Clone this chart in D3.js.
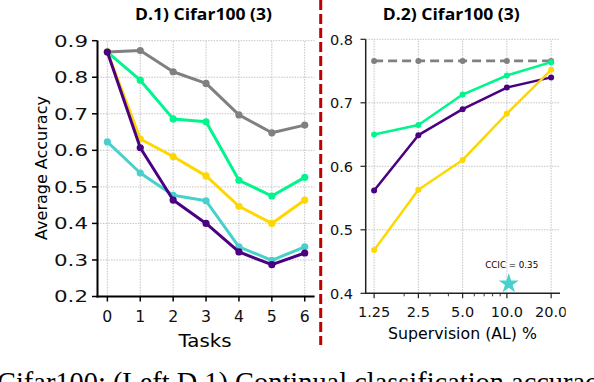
<!DOCTYPE html>
<html><head><meta charset="utf-8">
<script src="https://cdn.jsdelivr.net/npm/d3@7/dist/d3.min.js"></script>
<style>html,body{margin:0;padding:0;background:#fff;overflow:hidden}svg{display:block}</style>
</head><body>
<svg id="c" width="594" height="382"></svg>
<script>
// ---------- data ----------
const tasks = [0, 1, 2, 3, 4, 5, 6];
const leftGray   = [0.869, 0.873, 0.815, 0.783, 0.697, 0.648, 0.669];
const leftTurq   = [0.623, 0.538, 0.477, 0.462, 0.336, 0.299, 0.336];
const leftGreen  = [0.869, 0.792, 0.686, 0.678, 0.518, 0.475, 0.526];
const leftYellow = [0.869, 0.631, 0.583, 0.530, 0.447, 0.400, 0.464];
const leftPurple = [0.869, 0.607, 0.464, 0.400, 0.322, 0.287, 0.319];
const leftYTicks = [0.2, 0.3, 0.4, 0.5, 0.6, 0.7, 0.8, 0.9];

const supervision = [1.25, 2.5, 5.0, 10.0, 20.0];
const supervisionLabels = ["1.25", "2.5", "5.0", "10.0", "20.0"];
const minorTicks = [2, 3, 4, 6, 7, 8, 9];
const rightGray   = [0.766, 0.766, 0.766, 0.766, 0.766];
const rightPurple = [0.562, 0.649, 0.690, 0.724, 0.740];
const rightYellow = [0.468, 0.563, 0.610, 0.683, 0.752];
const rightGreen  = [0.650, 0.665, 0.713, 0.743, 0.764];
const rightYTicks = [0.4, 0.5, 0.6, 0.7, 0.8];
const starPoint = {x: 10.3, y: 0.415, label: "CCIC = 0.35"};

const C = {gray: "#808080", turq: "#48D1CC", green: "#00F68C", yellow: "#FFD700", purple: "#4B0082"};

const svg = d3.select("#c");
const tickFont = "DejaVu Sans";

// ---------- left panel ----------
const lx = d3.scaleLinear().domain([-0.3, 6.3]).range([97.5, 314.6]);
const ly = d3.scaleLinear().domain([0.2, 0.9]).range([296.5, 40.7]);
const L = svg.append("g");

// grid
L.selectAll(".vg").data(tasks).join("line")
  .attr("x1", d => lx(d)).attr("x2", d => lx(d)).attr("y1", ly(0.2)).attr("y2", ly(0.9))
  .attr("stroke", "#b5b5b5").attr("stroke-width", 0.8).attr("stroke-dasharray", "1.5,1.2");
L.selectAll(".hg").data(leftYTicks.slice(1)).join("line")
  .attr("x1", lx(-0.3)).attr("x2", lx(6.3)).attr("y1", d => ly(d)).attr("y2", d => ly(d))
  .attr("stroke", "#b5b5b5").attr("stroke-width", 0.8).attr("stroke-dasharray", "1.5,1.2");

const lline = d3.line().x((d, i) => lx(tasks[i])).y(d => ly(d));
[[leftGray, C.gray], [leftTurq, C.turq], [leftGreen, C.green], [leftYellow, C.yellow], [leftPurple, C.purple]]
  .forEach(([s, col]) => {
    L.append("path").datum(s).attr("d", lline).attr("fill", "none")
      .attr("stroke", col).attr("stroke-width", 3).attr("stroke-linejoin", "round");
    L.selectAll(null).data(s).join("circle")
      .attr("cx", (d, i) => lx(tasks[i])).attr("cy", d => ly(d)).attr("r", 3.6).attr("fill", col);
  });

// spines
L.append("line").attr("x1", 97.5).attr("x2", 97.5).attr("y1", ly(0.9)).attr("y2", ly(0.2) + 1)
  .attr("stroke", "#000").attr("stroke-width", 2);
L.append("line").attr("x1", 96.5).attr("x2", 314.6).attr("y1", ly(0.2)).attr("y2", ly(0.2))
  .attr("stroke", "#000").attr("stroke-width", 2);
// ticks
L.selectAll(".yt").data(leftYTicks).join("line")
  .attr("x1", 92).attr("x2", 97.5).attr("y1", d => ly(d)).attr("y2", d => ly(d))
  .attr("stroke", "#000").attr("stroke-width", 1.5);
L.selectAll(".xt").data(tasks).join("line")
  .attr("x1", d => lx(d)).attr("x2", d => lx(d)).attr("y1", ly(0.2)).attr("y2", ly(0.2) + 5)
  .attr("stroke", "#000").attr("stroke-width", 1.5);
// tick labels
L.selectAll(".ytl").data(leftYTicks).join("text")
  .attr("x", 88 - 34).attr("y", d => ly(d) + 5.8)
  .attr("font-family", tickFont).attr("font-size", 16).attr("fill", "#111")
  .attr("textLength", 34).attr("lengthAdjust", "spacingAndGlyphs")
  .text(d => d.toFixed(1));
L.selectAll(".xtl").data(tasks).join("text")
  .attr("x", d => lx(d) - 5).attr("y", 322)
  .attr("font-family", tickFont).attr("font-size", 15).attr("fill", "#111")
  .attr("textLength", 10).attr("lengthAdjust", "spacingAndGlyphs")
  .text(d => d);
// axis labels
L.append("text").attr("transform", "translate(47,168) rotate(-90)").attr("text-anchor", "middle")
  .attr("font-family", tickFont).attr("font-size", 16).attr("fill", "#000").text("Average Accuracy");
L.append("text").attr("x", 205 - 26.5).attr("y", 347)
  .attr("font-family", tickFont).attr("font-size", 18).attr("fill", "#000")
  .attr("textLength", 53).attr("lengthAdjust", "spacingAndGlyphs").text("Tasks");
L.append("text").attr("x", 203.5 - 68.5).attr("y", 20)
  .attr("font-family", "Open Sans").attr("font-weight", 700).attr("font-size", 15.5).attr("fill", "#000")
  .attr("textLength", 137).attr("lengthAdjust", "spacingAndGlyphs").text("D.1) Cifar100 (3)");

// ---------- divider ----------
svg.append("line").attr("x1", 320.7).attr("x2", 320.7).attr("y1", 0).attr("y2", 345)
  .attr("stroke", "#C00000").attr("stroke-width", 3).attr("stroke-dasharray", "10,4");

// ---------- right panel ----------
const rx = d3.scaleLog().base(2).domain([1.25 * Math.pow(2, -0.19), 20 * Math.pow(2, 0.2)]).range([365.7, 560]);
const ry = d3.scaleLinear().domain([0.4, 0.8]).range([293.3, 39.3]);
const R = svg.append("g");
const clipR = svg.append("defs").append("clipPath").attr("id", "clipR");
clipR.append("rect").attr("x", 300).attr("y", 0).attr("width", 265.7).attr("height", 382);

R.selectAll(".vg").data(supervision).join("line")
  .attr("x1", d => rx(d)).attr("x2", d => rx(d)).attr("y1", ry(0.4)).attr("y2", ry(0.8))
  .attr("stroke", "#b5b5b5").attr("stroke-width", 0.8).attr("stroke-dasharray", "1.5,1.2");
R.selectAll(".hg").data(rightYTicks.slice(1)).join("line")
  .attr("x1", 365.7).attr("x2", 560).attr("y1", d => ry(d)).attr("y2", d => ry(d))
  .attr("stroke", "#b5b5b5").attr("stroke-width", 0.8).attr("stroke-dasharray", "1.5,1.2");

const rline = d3.line().x((d, i) => rx(supervision[i])).y(d => ry(d));
R.append("path").datum(rightGray).attr("d", rline).attr("fill", "none")
  .attr("stroke", C.gray).attr("stroke-width", 2.6).attr("stroke-dasharray", "9,5");
R.selectAll(null).data(rightGray).join("circle")
  .attr("cx", (d, i) => rx(supervision[i])).attr("cy", d => ry(d)).attr("r", 3).attr("fill", C.gray);
[[rightPurple, C.purple], [rightYellow, C.yellow], [rightGreen, C.green]].forEach(([s, col]) => {
  R.append("path").datum(s).attr("d", rline).attr("fill", "none")
    .attr("stroke", col).attr("stroke-width", 2.5).attr("stroke-linejoin", "round");
  R.selectAll(null).data(s).join("circle")
    .attr("cx", (d, i) => rx(supervision[i])).attr("cy", d => ry(d)).attr("r", 3).attr("fill", col);
});

// star
R.append("path").attr("d", d3.symbol().type(d3.symbolStar).size(125)())
  .attr("transform", `translate(${rx(starPoint.x)},${ry(starPoint.y)})`).attr("fill", C.turq);
R.append("text").attr("x", 511.7 - 26.5).attr("y", 268.3)
  .attr("font-family", tickFont).attr("font-size", 9).attr("fill", "#000")
  .attr("textLength", 53).attr("lengthAdjust", "spacingAndGlyphs").text(starPoint.label);

// spines
R.append("line").attr("x1", 365.7).attr("x2", 365.7).attr("y1", ry(0.8)).attr("y2", ry(0.4))
  .attr("stroke", "#222").attr("stroke-width", 1.5);
R.append("line").attr("x1", 365).attr("x2", 560).attr("y1", ry(0.4)).attr("y2", ry(0.4))
  .attr("stroke", "#222").attr("stroke-width", 1.5);
R.selectAll(".yt").data(rightYTicks).join("line")
  .attr("x1", 360.5).attr("x2", 365.7).attr("y1", d => ry(d)).attr("y2", d => ry(d))
  .attr("stroke", "#222").attr("stroke-width", 1.2);
R.selectAll(".xt").data(supervision).join("line")
  .attr("x1", d => rx(d)).attr("x2", d => rx(d)).attr("y1", ry(0.4)).attr("y2", ry(0.4) + 5)
  .attr("stroke", "#222").attr("stroke-width", 1.2);
R.selectAll(".xm").data(minorTicks).join("line")
  .attr("x1", d => rx(d)).attr("x2", d => rx(d)).attr("y1", ry(0.4)).attr("y2", ry(0.4) + 3)
  .attr("stroke", "#222").attr("stroke-width", 0.9);
R.selectAll(".ytl").data(rightYTicks).join("text")
  .attr("x", 353).attr("y", d => ry(d) + 5.3).attr("text-anchor", "end")
  .attr("font-family", tickFont).attr("font-size", 14.5).attr("fill", "#111")
  .text(d => d.toFixed(1));
R.append("g").attr("clip-path", "url(#clipR)")
  .selectAll("text").data(supervision).join("text")
  .attr("x", d => rx(d)).attr("y", 316.7).attr("text-anchor", "middle")
  .attr("font-family", tickFont).attr("font-size", 14.5).attr("fill", "#111")
  .text((d, i) => supervisionLabels[i]);
R.append("text").attr("x", 462.5 - 74.5).attr("y", 339)
  .attr("font-family", tickFont).attr("font-size", 15.5).attr("fill", "#000")
  .attr("textLength", 149).attr("lengthAdjust", "spacingAndGlyphs").text("Supervision (AL) %");
R.append("text").attr("x", 451.3 - 68.5).attr("y", 20)
  .attr("font-family", "Open Sans").attr("font-weight", 700).attr("font-size", 15.5).attr("fill", "#000")
  .attr("textLength", 137).attr("lengthAdjust", "spacingAndGlyphs").text("D.2) Cifar100 (3)");

// ---------- caption (cut off) ----------
svg.append("text").attr("x", -3).attr("y", 391.5)
  .attr("font-family", "Liberation Serif").attr("font-size", 28.4).attr("fill", "#000")
  .text("Cifar100: (Left D.1) Continual classification accuracy");
</script>
</body></html>
